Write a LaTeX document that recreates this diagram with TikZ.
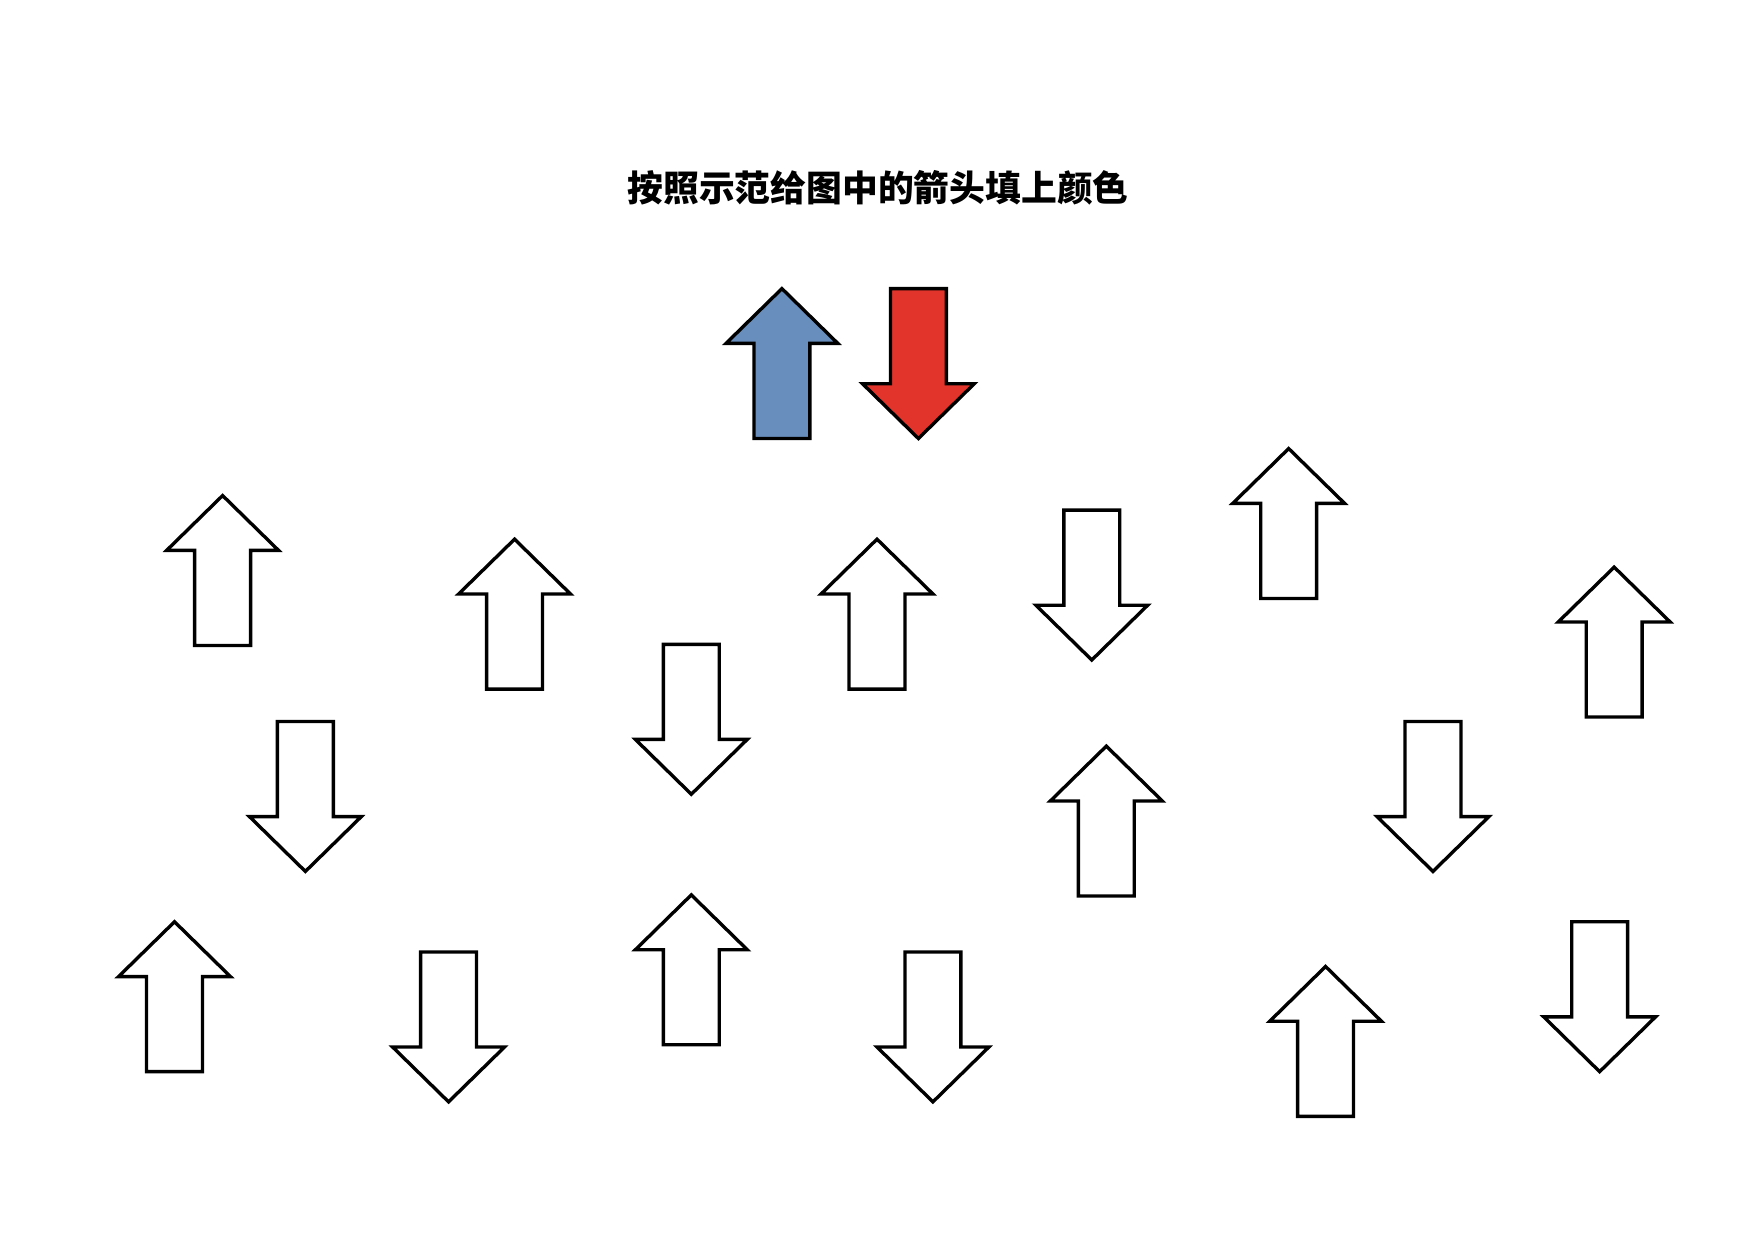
\documentclass[tikz,border=0pt]{standalone}
\usepackage{fontspec}
\newfontfamily\cjk{Noto Sans CJK SC}
\definecolor{ablue}{RGB}{103,142,188}
\definecolor{ared}{RGB}{226,52,43}
\begin{document}
\begin{tikzpicture}[x=1pt,y=-1pt,
  upar/.pic={\draw[line width=3pt,fill=\arfill] (0,0)--(50,49)--(25,49)--(25,134)--(-25,134)--(-25,49)--(-50,49)--cycle;},
  dnar/.pic={\draw[line width=3pt,fill=\arfill] (-25,0)--(25,0)--(25,85)--(50,85)--(0,134)--(-50,85)--(-25,85)--cycle;}]
\def\arfill{white}
\fill[white] (0,0) rectangle (1568,1108.5);
\node[font=\cjk\bfseries\fontsize{32}{32}\selectfont] (title) at (785,168) {按照示范给图中的箭头填上颜色};
\def\arfill{ablue}\pic (blue) at (699,258) {upar};
\def\arfill{ared}\pic (red) at (821,258) {dnar};
\def\arfill{white}
\foreach \x/\y [count=\i] in {199/443,460/482,784/482,1152/401,1443/507,989/667,156/824,618/800,1185/864}
  \pic (u\i) at (\x,\y) {upar};
\foreach \x/\y [count=\i] in {273/645,618/576,976/456,1281/645,401/851,834/851,1430/824}
  \pic (d\i) at (\x,\y) {dnar};
\end{tikzpicture}
\end{document}
